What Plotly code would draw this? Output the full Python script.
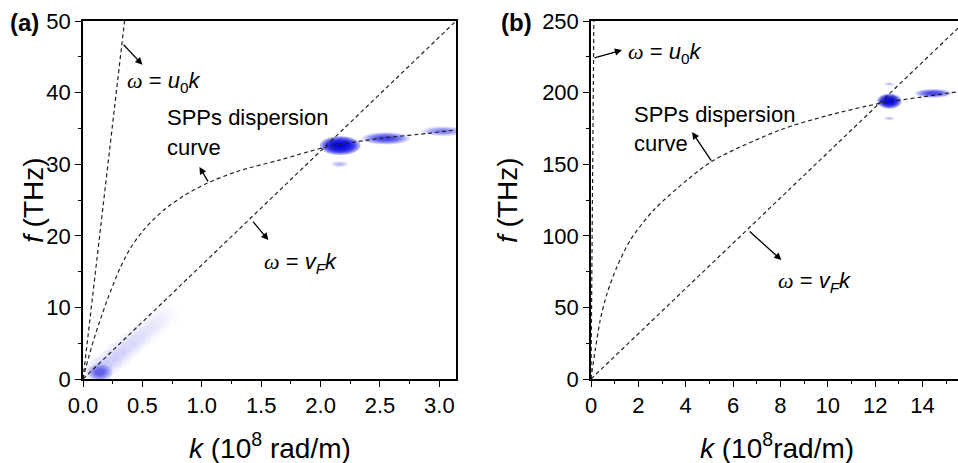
import plotly.graph_objects as go

# ---------------- Panel (a) data ----------------
a_k_spp = [0, 0.05, 0.10, 0.15, 0.21, 0.31, 0.40, 0.52, 0.68, 0.85, 1.04, 1.30, 1.66, 2.05, 2.50, 2.90, 3.14]
a_f_spp = [0, 3.2, 6.0, 8.5, 11.3, 15.4, 18.3, 21.0, 23.6, 25.6, 27.3, 29.0, 30.6, 32.4, 33.6, 34.3, 34.8]
a_k_u0 = [0, 0.35]
a_f_u0 = [0, 50]
a_k_vf = [0, 3.14]
a_f_vf = [0, 50]
# blue intensity spots: centre k, centre f, half-width (k), half-height (f), strength
a_blob_k = [2.165, 2.55, 3.03, 2.16, 0.14]
a_blob_f = [32.6, 33.6, 34.6, 30.0, 0.9]
a_blob_wk = [0.11, 0.13, 0.12, 0.05, 0.07]
a_blob_hf = [0.85, 0.55, 0.45, 0.3, 0.8]
a_blob_s = [1.0, 0.45, 0.25, 0.12, 0.28]
# faint glow along the low-k part of the vF line
a_band_k = [0.14, 0.22, 0.30, 0.38, 0.46, 0.54, 0.62, 0.70]
a_band_f = [1.2, 2.3, 3.4, 4.5, 5.6, 6.7, 7.8, 8.9]
a_band_s = [0.10, 0.08, 0.07, 0.06, 0.05, 0.04, 0.03, 0.02]

# ---------------- Panel (b) data ----------------
b_k_spp = [0, 0.04, 0.18, 0.39, 0.68, 1.10, 1.66, 2.65, 4.06, 5.20, 8.00, 10.0, 12.2, 14.0, 15.5]
b_f_spp = [0, 5, 20.3, 41.2, 59.8, 78.4, 97, 118, 139, 152.9, 174, 184, 192.5, 197, 200.6]
b_k_u0 = [0, 0.12]
b_f_u0 = [0, 250]
b_k_vf = [0, 15.5]
b_f_vf = [0, 245]
b_blob_k = [12.6, 14.45, 12.6, 12.6]
b_blob_f = [194, 199.5, 206, 182]
b_blob_wk = [0.33, 0.5, 0.15, 0.15]
b_blob_hf = [3.4, 2.0, 0.8, 0.8]
b_blob_s = [1.0, 0.45, 0.12, 0.12]

BLUE = "rgb(0,0,225)"
FONT = "Liberation Sans, Arial, sans-serif"

fig = go.Figure()

dash_line = dict(color="#222", width=1.2, dash="4px,3px")

# faint glow (drawn first, under the lines)
for size in [26, 18, 12]:
    fig.add_trace(go.Scatter(x=a_band_k, y=a_band_f, mode="markers",
                             marker=dict(color=BLUE, size=size, opacity=[s * 0.6 for s in a_band_s],
                                         line=dict(width=0)),
                             xaxis="x", yaxis="y", showlegend=False, hoverinfo="skip"))

for xa, ya, ks, fs in [
    ("x", "y", [a_k_u0, a_k_vf, a_k_spp], [a_f_u0, a_f_vf, a_f_spp]),
    ("x2", "y2", [b_k_u0, b_k_vf, b_k_spp], [b_f_u0, b_f_vf, b_f_spp]),
]:
    for k, f in zip(ks, fs):
        fig.add_trace(go.Scatter(x=k, y=f, mode="lines", line=dict(dash_line, shape="spline", smoothing=0.8),
                                 xaxis=xa, yaxis=ya, showlegend=False, hoverinfo="skip"))

shapes = []
levels = [1.55, 1.35, 1.2, 1.05, 0.9, 0.75, 0.6, 0.45]
def add_blobs(ks, fs, wks, hfs, ss, xref, yref):
    for k, f, wk, hf, s in zip(ks, fs, wks, hfs, ss):
        for lv in levels:
            shapes.append(dict(type="circle", xref=xref, yref=yref,
                               x0=k - wk * lv, x1=k + wk * lv,
                               y0=f - hf * lv, y1=f + hf * lv,
                               fillcolor=BLUE, opacity=0.32 * s,
                               line=dict(width=0), layer="below"))

add_blobs(a_blob_k, a_blob_f, a_blob_wk, a_blob_hf, a_blob_s, "x", "y")
add_blobs(b_blob_k, b_blob_f, b_blob_wk, b_blob_hf, b_blob_s, "x2", "y2")

ax_common = dict(showline=True, linecolor="black", linewidth=1.5, ticks="outside",
                 ticklen=6, tickwidth=1.3, tickcolor="black", showgrid=False,
                 zeroline=False, automargin=False,
                 tickfont=dict(family=FONT, size=22, color="black"))

Y0, Y1 = 84 / 463, 442 / 463
fig.update_layout(
    width=958, height=463,
    margin=dict(l=0, r=0, t=0, b=0, autoexpand=False),
    paper_bgcolor="white", plot_bgcolor="white",
    shapes=shapes,
    xaxis=dict(domain=[83 / 958, 456 / 958], range=[0, 3.14], tickvals=[0, 0.5, 1.0, 1.5, 2.0, 2.5, 3.0],
               ticktext=["0.0", "0.5", "1.0", "1.5", "2.0", "2.5", "3.0"], mirror=True,
               minor=dict(dtick=0.25, tick0=0, ticks="outside", ticklen=3, tickcolor="black"),
               anchor="y", **ax_common),
    yaxis=dict(domain=[Y0, Y1], range=[0, 50], dtick=10, mirror=True,
               minor=dict(dtick=5, tick0=0, ticks="outside", ticklen=3, tickcolor="black"),
               anchor="x", **ax_common),
    xaxis2=dict(domain=[591 / 958, 1.0], range=[0, 15.5], dtick=2, mirror=True,
                minor=dict(dtick=1, tick0=0, ticks="outside", ticklen=3, tickcolor="black"),
                anchor="y2", **ax_common),
    yaxis2=dict(domain=[Y0, Y1], range=[0, 250], dtick=50, mirror=False,
                minor=dict(dtick=25, tick0=0, ticks="outside", ticklen=3, tickcolor="black"),
                anchor="x2", **ax_common),
)

OM = '<span style="font-family:Liberation Serif, Times New Roman, serif">ω</span>'
txt_u0 = f"<i>{OM}</i> = <i>u</i><sub>0</sub><i>k</i>"
txt_vf = f"<i>{OM}</i> = <i>v</i><sub><i>F</i></sub><i>k</i>"

ann = []
def text(x, y, s, xref, yref, size=22, xanchor="left", **kw):
    ann.append(dict(x=x, y=y, xref=xref, yref=yref, text=s, showarrow=False,
                    xanchor=xanchor, yanchor="middle",
                    font=dict(family=FONT, size=size, color="black"), **kw))

def arrow(tail, head, xref, yref):
    ann.append(dict(x=head[0], y=head[1], ax=tail[0], ay=tail[1], xref=xref, yref=yref,
                    axref=xref, ayref=yref, text="", showarrow=True, arrowhead=2,
                    arrowsize=1.1, arrowwidth=1.3, arrowcolor="black"))

# panel (a) labels
text(0.354, 41.5, txt_u0, "x", "y", size=22)
text(0.69, 36.5, "SPPs dispersion", "x", "y")
text(0.69, 32.4, "curve", "x", "y")
text(1.51, 16.2, txt_vf, "x", "y", size=22)
arrow((0.33, 46.9), (0.50, 43.9), "x", "y")
arrow((1.06, 27.4), (0.98, 29.6), "x", "y")
arrow((1.42, 22.2), (1.56, 19.4), "x", "y")

# panel (b) labels
text(1.48, 227.6, txt_u0, "x2", "y2", size=22)
text(1.73, 184.4, "SPPs dispersion", "x2", "y2")
text(1.73, 164.8, "curve", "x2", "y2")
text(7.83, 67.7, txt_vf, "x2", "y2", size=22)
arrow((0.085, 224), (1.31, 229.7), "x2", "y2")
arrow((5.12, 151.5), (4.27, 172.5), "x2", "y2")
arrow((6.64, 104), (8.04, 83.1), "x2", "y2")

# panel letters
text(24 / 958, 1 - 22 / 463, "<b>(a)</b>", "paper", "paper", size=24, xanchor="center")
text(516 / 958, 1 - 22 / 463, "<b>(b)</b>", "paper", "paper", size=24, xanchor="center")

# axis titles
text(33 / 958, 1 - 200 / 463, "<i>f</i> (THz)", "paper", "paper", size=28, xanchor="center", textangle=-90)
text(507 / 958, 1 - 200 / 463, "<i>f</i> (THz)", "paper", "paper", size=28, xanchor="center", textangle=-90)
text(270 / 958, 1 - 446 / 463, "<i>k</i> (10<sup>8</sup> rad/m)", "paper", "paper", size=28, xanchor="center")
text(777 / 958, 1 - 446 / 463, "<i>k</i> (10<sup>8</sup>rad/m)", "paper", "paper", size=28, xanchor="center")

fig.update_layout(annotations=ann)
fig.write_html("out.html", config={"displayModeBar": False},
               post_script="document.body.style.margin='0';document.body.style.overflow='hidden';")
